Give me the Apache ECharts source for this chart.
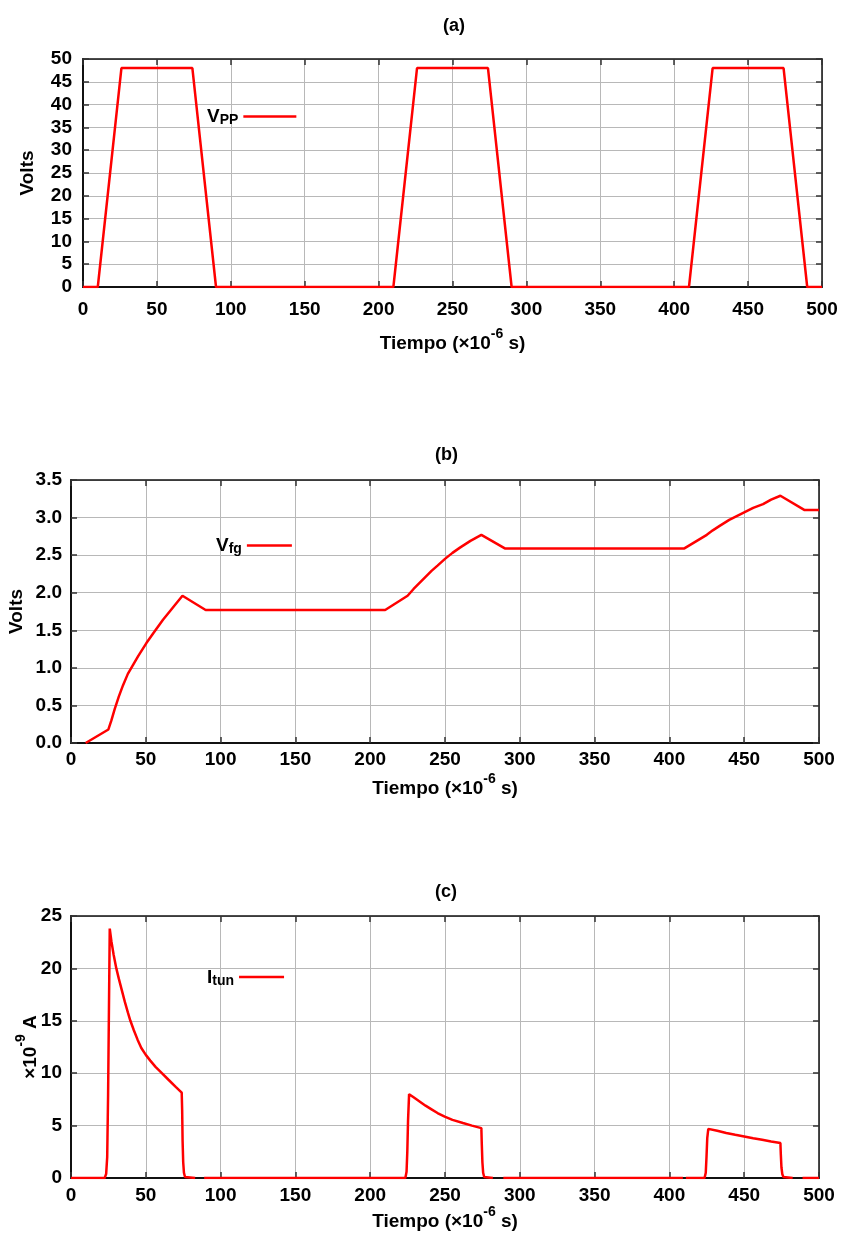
<!DOCTYPE html>
<html><head><meta charset="utf-8">
<script src="https://cdn.jsdelivr.net/npm/echarts@6/dist/echarts.min.js"></script>
<style>html,body{margin:0;padding:0;background:#fff}#c{width:843px;height:1240px}</style>
</head><body><div id="c"></div>
<script>
// ---- data (time in microseconds) ----
const timeA = [0, 10, 26, 74, 90, 210, 226, 274, 290, 410, 426, 474, 490, 500];
const vppVolts = [0, 0, 48, 48, 0, 0, 48, 48, 0, 0, 48, 48, 0, 0];

const timeB = [9.8, 25, 27, 29.2, 32, 34.8, 38, 41.5, 45, 50.4, 55, 61.5, 68, 74.5, 90, 210, 225, 229, 233, 237, 241, 245, 250, 255, 260, 267, 274.3, 290, 410, 425, 429, 433.6, 440, 450, 456, 462.6, 468, 474.2, 490.4, 500];
const vfgVolts = [0, 0.18, 0.3, 0.45, 0.62, 0.77, 0.92, 1.04, 1.16, 1.33, 1.46, 1.64, 1.80, 1.96, 1.77, 1.77, 1.96, 2.05, 2.13, 2.21, 2.29, 2.36, 2.45, 2.53, 2.6, 2.69, 2.77, 2.59, 2.59, 2.77, 2.83, 2.89, 2.97, 3.07, 3.13, 3.18, 3.24, 3.29, 3.10, 3.10];

const timeC = [0, 22.5, 23.5, 24.2, 24.8, 25.9, 27, 28.5, 30.3, 32, 34, 36, 38, 39.7, 42, 44.5, 47, 50, 53, 56.5, 60.4, 65, 70, 74, 74.3, 74.6, 75, 75.5, 76.2, 77, 83, 86, 89,
  223.5, 224.3, 224.8, 225.3, 226, 229, 233, 237, 241, 245, 249.8, 255, 262, 268, 274.3, 274.6, 275, 275.5, 276.2, 277, 282, 285.5, 289,
  409, 410, 411, 423.5, 424.3, 424.8, 425.3, 426, 432, 438, 444, 450, 456, 462, 468, 474.2, 474.5, 474.9, 475.5, 476.2, 477, 482.4, 486, 489, 500];
const iTunNanoA = [0, 0, 0.4, 2, 8, 23.8, 22.6, 21.3, 20, 19.0, 17.9, 16.8, 15.8, 15, 14.1, 13.2, 12.4, 11.75, 11.2, 10.6, 10.05, 9.4, 8.7, 8.15, 6.5, 3.5, 1.5, 0.5, 0.1, 0, 0, null, 0,
  0, 0.6, 2.5, 5.5, 8.0, 7.7, 7.3, 6.9, 6.55, 6.2, 5.86, 5.55, 5.25, 5.0, 4.76, 3.2, 1.5, 0.5, 0.1, 0, 0, null, 0,
  0, null, 0, 0, 0.5, 2, 3.8, 4.69, 4.5, 4.3, 4.12, 3.96, 3.8, 3.65, 3.48, 3.33, 2.2, 1, 0.35, 0.1, 0, 0, null, 0, 0];

const panelTitles = ['(a)', '(b)', '(c)'];
const seriesNames = ['Vpp', 'Vfg', 'Itun'];
const legendLabels = {Vpp: '{m|V}{s|PP}', Vfg: '{m|V}{s|fg}', Itun: '{m|I}{s|tun}'};
const xAxisName = '{n|Tiempo (×10}{sup|-6}{n| s)}';
const yAxisNames = ['Volts', 'Volts', '{n|×10}{sup|-9}{n| A}'];
const yRanges = [{min: 0, max: 50, interval: 5}, {min: 0, max: 3.5, interval: 0.5}, {min: 0, max: 25, interval: 5}];

// ---- layout / style ----
const FONT = '"Liberation Sans", Arial, Helvetica, sans-serif';
const RED = '#ff0000';
const grids = [
  {left: 83, top: 59, width: 739, height: 228},
  {left: 71, top: 480, width: 748, height: 263},
  {left: 71, top: 916, width: 748, height: 262}
];
const xLabelMargin = [13, 7, 8];
const xNameGap = [40, 29, 27];
const yLabelMargin = [11, 9, 9];
const yNameGap = [46, 45, 31];
const titlePos = [{left: 443, top: 17}, {left: 435, top: 446}, {left: 435, top: 883}];
const legendPos = [{left: 207, top: 100.5, w: 53}, {left: 216, top: 529.5, w: 45}, {left: 207, top: 961, w: 45}];

const richName = {
  n: {fontSize: 19, fontWeight: 'bold', fontFamily: FONT, color: '#000', lineHeight: 26, verticalAlign: 'bottom'},
  sup: {fontSize: 14, fontWeight: 'bold', fontFamily: FONT, color: '#000', lineHeight: 14, verticalAlign: 'top'}
};
const labelStyle = {color: '#000', fontSize: 19, fontWeight: 'bold', fontFamily: FONT};

function pairs(t, v) { return t.map((x, i) => [x, v[i] === null ? '-' : v[i]]); }

const xAxis = [], yAxis = [], series = [], title = [], legend = [];
const dataSets = [pairs(timeA, vppVolts), pairs(timeB, vfgVolts), pairs(timeC, iTunNanoA)];

grids.forEach((g, i) => {
  xAxis.push({
    gridIndex: i, type: 'value', min: 0, max: 500, interval: 50, position: 'bottom',
    axisLine: {show: true, onZero: false, lineStyle: {color: '#111', width: 2}},
    axisTick: {show: true, inside: true, length: 6, lineStyle: {color: '#333', width: 1.5}},
    axisLabel: Object.assign({margin: xLabelMargin[i]}, labelStyle),
    splitLine: {show: true, lineStyle: {color: '#b8b8b8', width: 1}},
    name: xAxisName, nameLocation: 'middle', nameGap: xNameGap[i], nameMoveOverlap: false,
    nameTextStyle: {rich: richName}
  });
  const yr = yRanges[i];
  yAxis.push({
    gridIndex: i, type: 'value', min: yr.min, max: yr.max, interval: yr.interval, position: 'left',
    axisLine: {show: true, onZero: false, lineStyle: {color: '#111', width: 2}},
    axisTick: {show: true, inside: true, length: 6, lineStyle: {color: '#333', width: 1.5}},
    axisLabel: Object.assign({margin: yLabelMargin[i], formatter: i === 1 ? (v => v.toFixed(1)) : (v => String(v))}, labelStyle),
    splitLine: {show: true, lineStyle: {color: '#b8b8b8', width: 1}},
    name: yAxisNames[i], nameLocation: 'middle', nameGap: yNameGap[i], nameMoveOverlap: false,
    nameTextStyle: i === 2 ? {rich: richName} : {fontSize: 19, fontWeight: 'bold', fontFamily: FONT, color: '#000'}
  });
});
grids.forEach((g, i) => {
  xAxis.push({
    gridIndex: i, type: 'value', min: 0, max: 500, interval: 50, position: 'top',
    axisLine: {show: true, onZero: false, lineStyle: {color: '#111', width: 1.5}},
    axisTick: {show: true, inside: true, length: 6, lineStyle: {color: '#333', width: 1.5}},
    axisLabel: {show: false}, splitLine: {show: false}
  });
  const yr = yRanges[i];
  yAxis.push({
    gridIndex: i, type: 'value', min: yr.min, max: yr.max, interval: yr.interval, position: 'right',
    axisLine: {show: true, onZero: false, lineStyle: {color: '#111', width: 1.5}},
    axisTick: {show: true, inside: true, length: 6, lineStyle: {color: '#333', width: 1.5}},
    axisLabel: {show: false}, splitLine: {show: false}
  });
  series.push({
    name: seriesNames[i], type: 'line', xAxisIndex: i, yAxisIndex: i,
    data: dataSets[i], showSymbol: false, symbol: 'none', clip: true, connectNulls: false,
    lineStyle: {color: RED, width: 2.5}, itemStyle: {color: RED}, z: 5
  });
  title.push({
    text: panelTitles[i], left: titlePos[i].left, top: titlePos[i].top, padding: 0,
    textStyle: {fontSize: 18, fontWeight: 'bold', fontFamily: FONT, color: '#000'}
  });
  legend.push({
    data: [seriesNames[i]], left: legendPos[i].left, top: legendPos[i].top, padding: 0,
    align: 'right', icon: 'rect', itemWidth: legendPos[i].w, itemHeight: 2.5,
    selectedMode: false,
    formatter: n => legendLabels[n],
    textStyle: {
      rich: {
        m: {fontSize: 19, fontWeight: 'bold', fontFamily: FONT, color: '#000', lineHeight: 22, verticalAlign: 'top', padding: [2, 0, 0, 0]},
        s: {fontSize: 14, fontWeight: 'bold', fontFamily: FONT, color: '#000', lineHeight: 14, verticalAlign: 'bottom', padding: [13, 0, 0, 0]}
      }
    }
  });
});

const chart = echarts.init(document.getElementById('c'), null, {renderer: 'canvas'});
chart.setOption({
  animation: false,
  backgroundColor: '#fff',
  title, legend,
  grid: grids.map(g => Object.assign({show: false, containLabel: false, outerBoundsMode: 'none'}, g)),
  xAxis, yAxis, series
});
</script>
</body></html>
